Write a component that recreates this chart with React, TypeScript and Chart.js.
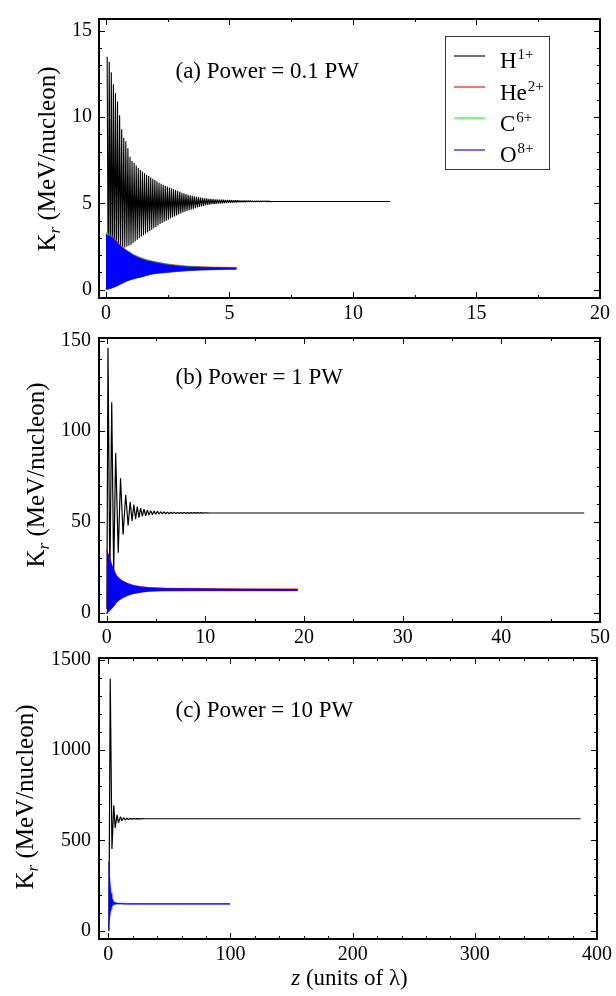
import React, { useEffect, useRef } from "react";
import { Chart, registerables } from "chart.js";

Chart.register(...registerables);

const SERIF = '"Liberation Serif", "Times New Roman", serif';

// ---------------- Panel (a) : 0.1 PW ----------------
const A_X_TICKS = [0, 5, 10, 15, 20];
const A_Y_TICKS = [0, 5, 10, 15];
// H1+ oscillation: successive maxima / minima, one cycle every A_H_PERIOD
const A_H_START = 0.05;
const A_H_PERIOD = 0.084;
const A_H_PEAKS = [
  13.5, 13.2, 12.6, 11.9, 11.4, 10.9, 10.1, 9.3, 8.8, 8.6,
  8.2, 7.7, 7.45, 7.35, 7.2, 7.05, 6.95, 6.85, 6.75, 6.65,
  6.58, 6.5, 6.42, 6.35, 6.28, 6.2, 6.14, 6.08, 6.02, 5.97,
  5.92, 5.87, 5.82, 5.77, 5.72, 5.67, 5.62, 5.58, 5.54, 5.5,
  5.47, 5.44, 5.41, 5.38, 5.36, 5.34, 5.32, 5.3, 5.29, 5.27,
  5.26, 5.25, 5.24, 5.23, 5.22, 5.215, 5.21, 5.205, 5.2, 5.195,
  5.19, 5.185, 5.18, 5.175, 5.17, 5.165, 5.16, 5.16, 5.155, 5.155,
  5.15, 5.15, 5.145, 5.145, 5.14, 5.14, 5.14, 5.135, 5.135,
];
const A_H_TROUGHS = [
  0.3, 0.6, 1.0, 1.4, 1.7, 2.0, 2.2, 2.35, 2.45, 2.5,
  2.55, 2.6, 2.7, 2.8, 2.9, 3.0, 3.08, 3.16, 3.24, 3.32,
  3.4, 3.48, 3.56, 3.64, 3.72, 3.8, 3.87, 3.94, 4.0, 4.06,
  4.12, 4.18, 4.24, 4.3, 4.36, 4.42, 4.47, 4.52, 4.56, 4.6,
  4.64, 4.68, 4.72, 4.76, 4.8, 4.83, 4.86, 4.89, 4.91, 4.93,
  4.95, 4.96, 4.97, 4.98, 4.99, 5.0, 5.01, 5.02, 5.03, 5.04,
  5.045, 5.05, 5.055, 5.06, 5.065, 5.07, 5.075, 5.08, 5.08, 5.085,
  5.085, 5.09, 5.09, 5.095, 5.095, 5.1, 5.1, 5.1, 5.1,
];
const A_H_TAIL_Z = [6.75, 11.5];
const A_H_TAIL_V = [5.11, 5.11];
// ions (envelope of the fast oscillation)
const A_ION_Z = [0, 0.03, 0.15, 0.3, 0.45, 0.57, 0.7, 0.84, 1.0, 1.1, 1.3, 1.51, 1.7, 1.92, 2.2, 2.46, 2.8, 3.27, 3.8, 4.3, 4.8, 5.29];
const A_O_UP = [3.15, 3.2, 3.12, 2.98, 2.75, 2.55, 2.4, 2.24, 2.1, 2.0, 1.87, 1.75, 1.67, 1.6, 1.52, 1.45, 1.39, 1.33, 1.3, 1.28, 1.27, 1.26];
const A_O_LO = [0.0, 0.02, 0.06, 0.13, 0.22, 0.31, 0.4, 0.5, 0.58, 0.62, 0.7, 0.77, 0.85, 0.92, 0.97, 1.0, 1.05, 1.1, 1.14, 1.16, 1.18, 1.19];
const A_HE_UP = [3.2, 3.27, 3.2, 3.05, 2.82, 2.62, 2.46, 2.3, 2.16, 2.06, 1.93, 1.81, 1.72, 1.65, 1.57, 1.5, 1.44, 1.38, 1.34, 1.32, 1.31, 1.3];
const A_C_UP = [3.25, 3.32, 3.17, 3.01, 2.78, 2.58, 2.43, 2.27, 2.13, 2.03, 1.9, 1.78, 1.7, 1.63, 1.55, 1.48, 1.42, 1.36, 1.32, 1.3, 1.29, 1.28];

// ---------------- Panel (b) : 1 PW ----------------
const B_X_TICKS = [0, 10, 20, 30, 40, 50];
const B_Y_TICKS = [0, 50, 100, 150];
const B_H_Z = [
  0.02, 0.13, 0.32, 0.51, 0.71, 0.91, 1.17, 1.4, 1.66, 1.93,
  2.17, 2.38, 2.57, 2.75, 2.93, 3.1, 3.27, 3.44, 3.61, 3.78,
  3.95, 4.12, 4.29, 4.46, 4.63, 4.8, 4.97, 5.14, 5.31, 5.48,
  5.65, 5.82, 5.99, 6.16, 6.33, 6.5, 6.67, 6.84, 7.01, 7.18,
  7.35, 7.52, 7.69, 7.86, 8.03, 8.2, 8.37, 8.54, 8.71, 8.88,
  9.05, 9.22, 9.39, 9.56, 9.73, 9.9, 10.5, 48.4,
];
const B_H_V = [
  2, 146, 18, 116, 22, 88, 33, 74, 43, 65,
  48, 61, 50.5, 59.5, 51.5, 58.5, 52.3, 57.6, 53, 57,
  53.4, 56.5, 53.8, 56.2, 54, 56, 54.2, 55.8, 54.3, 55.6,
  54.4, 55.5, 54.5, 55.4, 54.5, 55.3, 54.6, 55.3, 54.6, 55.2,
  54.7, 55.2, 54.7, 55.2, 54.7, 55.1, 54.7, 55.1, 54.8, 55.1,
  54.8, 55.1, 54.8, 55.1, 54.8, 55.0, 54.9, 54.9,
];
const B_ION_Z = [0, 0.03, 0.3, 0.64, 0.98, 1.3, 1.65, 2.1, 2.67, 3.5, 4.36, 6, 9.5, 14, 19.36];
const B_O_UP = [34, 34.2, 29.7, 24.4, 20.4, 18.5, 17.2, 16, 14.9, 14.1, 13.6, 13.3, 13.1, 12.9, 12.8];
const B_O_LO = [0, -0.5, 1.1, 2.9, 5.5, 7, 8.2, 9.4, 10.4, 11.2, 11.8, 12.0, 12.1, 12.1, 12.1];
const B_HE_UP = [34.3, 34.5, 30, 24.7, 20.7, 18.8, 17.5, 16.3, 15.2, 14.4, 13.9, 13.6, 13.4, 13.2, 13.1];

// ---------------- Panel (c) : 10 PW ----------------
const C_X_TICKS = [0, 100, 200, 300, 400];
const C_Y_TICKS = [0, 500, 1000, 1500];
const C_H_Z = [0.5, 1.6, 3.0, 4.5, 5.6, 7.2, 8.3, 10, 11.2, 12.6, 13.8, 15.2, 16.4, 17.8, 19, 20.4, 22, 24, 26, 28, 30, 386.6];
const C_H_V = [0, 1394, 453, 695, 570, 641, 597, 632, 609, 627, 613, 624, 616, 622, 618, 621, 619, 620.5, 619.5, 620.3, 620, 620];
const C_ION_Z = [0, 0.27, 0.8, 1.6, 2.3, 3.0, 4.3, 5.5, 7, 10, 15, 30, 60, 99.6];
const C_O_UP = [380, 381, 330, 256, 210, 184, 163, 158, 154, 153, 152, 151, 151, 151];
const C_O_LO = [0, 5, 50, 95, 118, 134, 145, 147, 148, 148, 147, 147, 147, 147];

// legend
const LEGEND_BASE = ["H", "He", "C", "O"];
const LEGEND_SUP = ["1+", "2+", "6+", "8+"];
const LEGEND_COLORS = ["#000000", "#ff0000", "#00ff00", "#0000ff"];

const pts = (xs: number[], ys: number[]) => xs.map((x, i) => ({ x, y: ys[i] }));

function zigzag(start: number, period: number, peaks: number[], troughs: number[]) {
  const out: { x: number; y: number }[] = [];
  peaks.forEach((p, k) => {
    const z = start + k * period;
    out.push({ x: z, y: p });
    out.push({ x: z + period / 2, y: troughs[k] });
  });
  return out;
}

function bandSets(z: number[], up: number[], lo: number[], color: string, bw: number) {
  return [
    { data: pts(z, up), borderColor: color, borderWidth: bw, backgroundColor: color, fill: "+1", pointRadius: 0 },
    { data: pts(z, lo), borderColor: color, borderWidth: bw, backgroundColor: color, fill: false, pointRadius: 0 },
  ];
}

function lineSet(data: { x: number; y: number }[], width: number) {
  return { data, borderColor: "#000", borderWidth: width, fill: false, pointRadius: 0, borderJoinStyle: "bevel" };
}

const frameTicks = {
  id: "frameTicks",
  afterDatasetsDraw(chart: any, _a: any, o: any) {
    const { ctx, chartArea: a, scales } = chart;
    const xs = scales.x;
    const ys = scales.y;
    ctx.save();
    ctx.strokeStyle = "#000";
    ctx.lineWidth = 1;
    const seg = (x1: number, y1: number, x2: number, y2: number) => {
      ctx.beginPath();
      ctx.moveTo(x1, y1);
      ctx.lineTo(x2, y2);
      ctx.stroke();
    };
    const doX = (step: number, len: number) => {
      for (let v = Math.ceil(xs.min / step) * step; v <= xs.max + 1e-9; v += step) {
        const p = Math.round(xs.getPixelForValue(v)) + 0.5;
        seg(p, a.bottom, p, a.bottom - len);
        seg(p, a.top, p, a.top + len);
      }
    };
    const doY = (step: number, len: number) => {
      for (let v = Math.ceil(ys.min / step) * step; v <= ys.max + 1e-9; v += step) {
        const p = Math.round(ys.getPixelForValue(v)) + 0.5;
        seg(a.left, p, a.left + len, p);
        seg(a.right, p, a.right - len, p);
      }
    };
    doX(o.xMinor, 3);
    doX(o.xMajor, 6);
    doY(o.yMinor, 3);
    doY(o.yMajor, 6);
    ctx.lineWidth = 2;
    ctx.strokeRect(a.left, a.top, a.right - a.left, a.bottom - a.top);
    ctx.restore();
  },
};

const decor = {
  id: "decor",
  afterDraw(chart: any, _a: any, o: any) {
    const ctx = chart.ctx;
    ctx.save();
    ctx.fillStyle = "#000";
    ctx.textBaseline = "alphabetic";
    ctx.textAlign = "left";
    // annotation
    ctx.font = `23px ${SERIF}`;
    ctx.fillText(o.annot, o.annotX, o.annotY);
    // y title
    ctx.save();
    ctx.translate(o.yTitleX, o.yTitleY);
    ctx.rotate(-Math.PI / 2);
    ctx.font = `25px ${SERIF}`;
    const wK = ctx.measureText("K").width;
    const rest = " (MeV/nucleon)";
    const wRest = ctx.measureText(rest).width;
    ctx.font = `italic 17px ${SERIF}`;
    const wr = ctx.measureText("r").width;
    const start = -(wK + wr + wRest) / 2;
    ctx.font = `25px ${SERIF}`;
    ctx.fillText("K", start, 0);
    ctx.font = `italic 17px ${SERIF}`;
    ctx.fillText("r", start + wK, 5);
    ctx.font = `25px ${SERIF}`;
    ctx.fillText(rest, start + wK + wr, 0);
    ctx.restore();
    // x title
    if (o.xTitle) {
      ctx.font = `italic 23px ${SERIF}`;
      const wz = ctx.measureText("z").width;
      ctx.font = `23px ${SERIF}`;
      const t = " (units of λ)";
      const wt = ctx.measureText(t).width;
      const s = o.xTitleX - (wz + wt) / 2;
      ctx.font = `italic 23px ${SERIF}`;
      ctx.fillText("z", s, o.xTitleY);
      ctx.font = `23px ${SERIF}`;
      ctx.fillText(t, s + wz, o.xTitleY);
    }
    // legend
    if (o.legend) {
      ctx.strokeStyle = "#333";
      ctx.lineWidth = 1;
      ctx.strokeRect(445.5, 36.5, 104, 133);
      const lineY = [56, 87, 118, 150];
      const baseY = [68, 100, 131, 162];
      LEGEND_BASE.forEach((b, i) => {
        ctx.strokeStyle = LEGEND_COLORS[i];
        ctx.globalAlpha = 0.7;
        ctx.lineWidth = 1.6;
        ctx.beginPath();
        ctx.moveTo(454, lineY[i]);
        ctx.lineTo(485, lineY[i]);
        ctx.stroke();
        ctx.globalAlpha = 1;
        ctx.font = `23px ${SERIF}`;
        ctx.fillText(b, 500, baseY[i]);
        const w = ctx.measureText(b).width;
        ctx.font = `15px ${SERIF}`;
        ctx.fillText(LEGEND_SUP[i], 500 + w + 1, baseY[i] - 9);
      });
    }
    ctx.restore();
  },
};

type Spec = {
  height: number;
  padTop: number;
  xHeight: number;
  xMin: number;
  xMax: number;
  yMin: number;
  yMax: number;
  xTicks: number[];
  yTicks: number[];
  yPad: number;
  datasets: any[];
  ticks: { xMajor: number; xMinor: number; yMajor: number; yMinor: number };
  decor: any;
};

function makeConfig(s: Spec): any {
  const tickFont = { family: SERIF, size: 20 };
  return {
    type: "line",
    data: { datasets: s.datasets },
    options: {
      responsive: false,
      animation: false,
      events: [],
      layout: { padding: { top: s.padTop, right: 16, left: 0, bottom: 0 }, autoPadding: false },
      elements: { point: { radius: 0 }, line: { tension: 0 } },
      plugins: {
        legend: { display: false },
        tooltip: { enabled: false },
        frameTicks: s.ticks,
        decor: s.decor,
      },
      scales: {
        x: {
          type: "linear",
          min: s.xMin,
          max: s.xMax,
          afterFit: (sc: any) => {
            sc.height = s.xHeight;
          },
          afterBuildTicks: (sc: any) => {
            sc.ticks = s.xTicks.map((v) => ({ value: v }));
          },
          grid: { display: false, drawTicks: false },
          border: { display: false },
          ticks: { font: tickFont, color: "#000", padding: 4, maxRotation: 0, autoSkip: false, callback: (v: any) => String(v) },
        },
        y: {
          type: "linear",
          min: s.yMin,
          max: s.yMax,
          afterFit: (sc: any) => {
            sc.width = 99;
          },
          afterBuildTicks: (sc: any) => {
            sc.ticks = s.yTicks.map((v) => ({ value: v }));
          },
          grid: { display: false, drawTicks: false },
          border: { display: false },
          ticks: { font: tickFont, color: "#000", padding: s.yPad, autoSkip: false, callback: (v: any) => String(v) },
        },
      },
    },
    plugins: [frameTicks, decor],
  };
}

const SPEC_A: Spec = {
  height: 326,
  padTop: 5,
  xHeight: 28,
  xMin: -0.28,
  xMax: 20,
  yMin: -0.48,
  yMax: 15.68,
  xTicks: A_X_TICKS,
  yTicks: A_Y_TICKS,
  yPad: 7,
  datasets: [
    ...bandSets(A_ION_Z, A_O_UP, A_O_LO, "#0000ff", 0.6),
    ...bandSets(A_ION_Z, A_C_UP, A_O_LO, "#00ff00", 0.4),
    ...bandSets(A_ION_Z, A_HE_UP, A_O_LO, "#ff0000", 0.4),
    lineSet(zigzag(A_H_START, A_H_PERIOD, A_H_PEAKS, A_H_TROUGHS).concat(pts(A_H_TAIL_Z, A_H_TAIL_V)), 1.1),
  ],
  ticks: { xMajor: 5, xMinor: 2.5, yMajor: 5, yMinor: 1 },
  decor: { annot: "(a) Power = 0.1 PW", annotX: 175.5, annotY: 77.5, yTitleX: 55, yTitleY: 159, legend: true, xTitle: false },
};

const SPEC_B: Spec = {
  height: 326,
  padTop: 12,
  xHeight: 22,
  xMin: -0.78,
  xMax: 50,
  yMin: -5.2,
  yMax: 151.4,
  xTicks: B_X_TICKS,
  yTicks: B_Y_TICKS,
  yPad: 8,
  datasets: [
    ...bandSets(B_ION_Z, B_O_UP, B_O_LO, "#0000ff", 0.6),
    ...bandSets(B_ION_Z, B_HE_UP, B_O_LO, "#ff0000", 0.3),
    lineSet(pts(B_H_Z, B_H_V), 1.2),
  ],
  ticks: { xMajor: 10, xMinor: 5, yMajor: 50, yMinor: 10 },
  decor: { annot: "(b) Power = 1 PW", annotX: 175.5, annotY: 66, yTitleX: 44, yTitleY: 157, legend: false, xTitle: false },
};

const SPEC_C: Spec = {
  height: 358,
  padTop: 12,
  xHeight: 57,
  xMin: -7.6,
  xMax: 400,
  yMin: -45,
  yMax: 1509,
  xTicks: C_X_TICKS,
  yTicks: C_Y_TICKS,
  yPad: 8,
  datasets: [
    ...bandSets(C_ION_Z, C_O_UP, C_O_LO, "#0000ff", 0.6),
    lineSet(pts(C_H_Z, C_H_V), 1.2),
  ],
  ticks: { xMajor: 100, xMinor: 20, yMajor: 500, yMinor: 100 },
  decor: { annot: "(c) Power = 10 PW", annotX: 175.5, annotY: 78.7, yTitleX: 33, yTitleY: 159, legend: false, xTitle: true, xTitleX: 349.5, xTitleY: 347 },
};

function Panel({ spec, top }: { spec: Spec; top: number }) {
  const ref = useRef<HTMLCanvasElement>(null);
  useEffect(() => {
    const chart = new Chart(ref.current as HTMLCanvasElement, makeConfig(spec));
    return () => chart.destroy();
  }, [spec]);
  return (
    <canvas
      ref={ref}
      width={616}
      height={spec.height}
      style={{ position: "absolute", left: 0, top, width: 616, height: spec.height }}
    />
  );
}

export default function App() {
  return (
    <div style={{ position: "fixed", left: 0, top: 0, width: 616, height: 996, background: "#fff", overflow: "hidden" }}>
      <Panel spec={SPEC_A} top={0} />
      <Panel spec={SPEC_B} top={318} />
      <Panel spec={SPEC_C} top={638} />
    </div>
  );
}
